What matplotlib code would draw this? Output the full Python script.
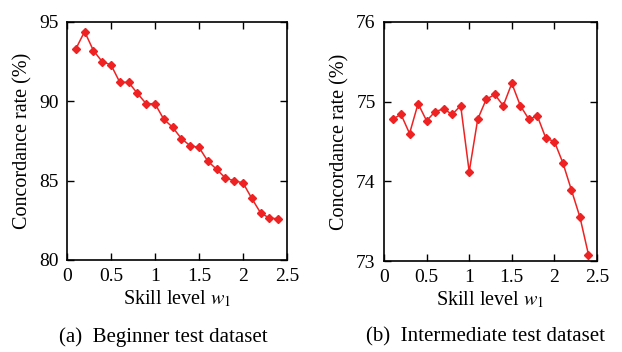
import numpy as np
import matplotlib
matplotlib.use('Agg')
import matplotlib.pyplot as plt

plt.rcParams['font.family'] = 'Liberation Serif'
plt.rcParams['mathtext.fontset'] = 'stix'

# skill level w1
skill = [0.1, 0.2, 0.3, 0.4, 0.5, 0.6, 0.7, 0.8, 0.9, 1.0, 1.1, 1.2,
         1.3, 1.4, 1.5, 1.6, 1.7, 1.8, 1.9, 2.0, 2.1, 2.2, 2.3, 2.4]

# concordance rate (%)
beginner = [93.3, 94.4, 93.2, 92.5, 92.3, 91.2, 91.2, 90.5, 89.85, 89.85, 88.87, 88.37,
            87.65, 87.2, 87.1, 86.23, 85.72, 85.16, 85.0, 84.86, 83.88, 82.97, 82.64, 82.6]
intermediate = [74.78, 74.84, 74.60, 74.975, 74.76, 74.875, 74.91, 74.84, 74.95, 74.12, 74.78, 75.03,
                75.09, 74.95, 75.23, 74.95, 74.78, 74.82, 74.54, 74.50, 74.23, 73.89, 73.55, 73.08]

captions = ['(a)  Beginner test dataset', '(b)  Intermediate test dataset']

fig = plt.figure(figsize=(6.22, 3.52), dpi=100)
W, H = 622, 352
boxes = [(67, 22, 287, 260), (384, 22, 597, 261)]
cap_x = [163, 486]
series = [beginner, intermediate]
ylims = [(80, 95), (73, 76)]
yticks = [[80, 85, 90, 95], [73, 74, 75, 76]]

for i in range(2):
    x0, y0, x1, y1 = boxes[i]
    ax = fig.add_axes([x0 / W, 1 - y1 / H, (x1 - x0) / W, (y1 - y0) / H])
    ax.plot(skill, series[i], color='#ee2222', lw=1.1, marker='D', ms=4)
    ax.set_xlim(0, 2.5)
    ax.set_ylim(*ylims[i])
    ax.set_xticks([0, 0.5, 1, 1.5, 2, 2.5])
    ax.set_xticklabels(['0', '0.5', '1', '1.5', '2', '2.5'])
    ax.set_yticks(yticks[i])
    ax.tick_params(direction='in', top=True, right=True, length=5, width=1, labelsize=14, pad=6)
    for s in ax.spines.values():
        s.set_linewidth(1.2)
    ax.set_xlabel('Skill level $w_1$', fontsize=14.5, labelpad=2)
    ax.set_ylabel('Concordance rate (%)', fontsize=14.5, labelpad=5)
    fig.text(cap_x[i] / W, 1 - 337 / H, captions[i], ha='center', va='center', fontsize=15)

fig.savefig('out.png', dpi=100)
